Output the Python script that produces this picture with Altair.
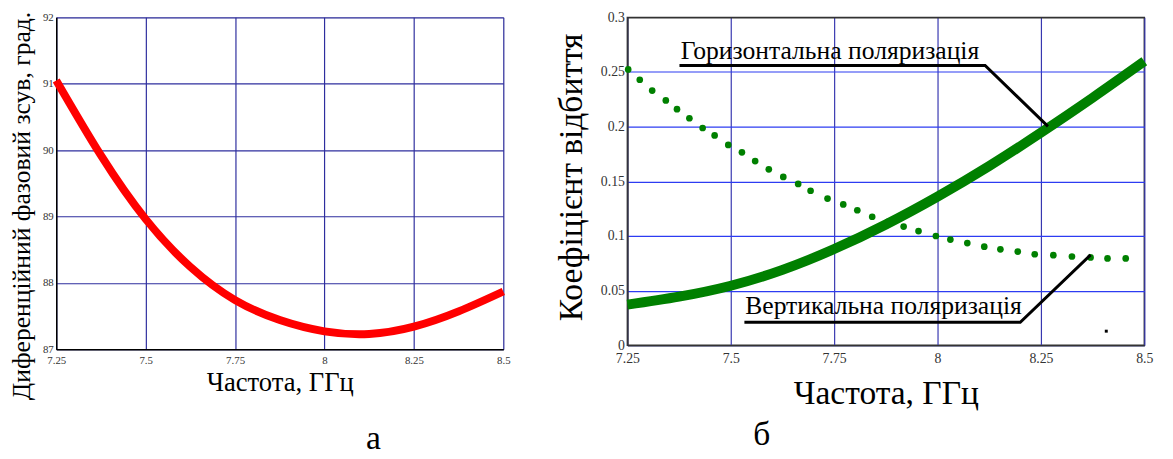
import altair as alt
import pandas as pd

FONT = "Liberation Serif"

# ---- panel a: differential phase shift ----
phase_freq = [7.25, 7.375, 7.5, 7.625, 7.75, 7.875, 8.0, 8.125, 8.25, 8.375, 8.5]
phase_deg = [91.05, 89.92, 88.96, 88.24, 87.74, 87.44, 87.27, 87.23, 87.34, 87.57, 87.87]

# ---- panel b: reflection coefficient ----
horiz_freq = [7.25, 7.375, 7.5, 7.625, 7.75, 7.875, 8.0, 8.125, 8.25, 8.375, 8.5]
horiz_val = [0.0372, 0.0445, 0.0545, 0.0690, 0.0880, 0.1105, 0.1360, 0.1640, 0.1945, 0.2265, 0.2598]

vert_freq = [7.252, 7.280, 7.310, 7.343, 7.370, 7.400, 7.432, 7.461, 7.494, 7.527, 7.559,
             7.592, 7.627, 7.663, 7.693, 7.734, 7.772, 7.806, 7.842, 7.880, 7.918, 7.954,
             7.996, 8.031, 8.072, 8.113, 8.152, 8.194, 8.235, 8.280, 8.325, 8.370, 8.411, 8.455]
vert_val = [0.2524, 0.2429, 0.2330, 0.2240, 0.2160, 0.2077, 0.1988, 0.1920, 0.1833, 0.1765, 0.1685,
            0.1610, 0.1540, 0.1476, 0.1414, 0.1342, 0.1289, 0.1235, 0.1176, 0.1130, 0.1086, 0.1045,
            0.1000, 0.0967, 0.0935, 0.0902, 0.0878, 0.0857, 0.0833, 0.0824, 0.0812, 0.0804, 0.0795, 0.0795]

label_text = ["Горизонтальна поляризація", "Вертикальна поляризація"]
label_freq = [7.379, 7.535]
label_val = [0.2617, 0.0285]

leader_h_freq = [7.376, 8.115, 8.267]
leader_h_val = [0.2560, 0.2560, 0.2003]
leader_v_freq = [7.533, 8.200, 8.370]
leader_v_val = [0.0211, 0.0211, 0.0827]

speck_freq = [8.408]
speck_val = [0.0129]

x_ticks = [7.25, 7.5, 7.75, 8.0, 8.25, 8.5]
phase_ticks = [87, 88, 89, 90, 91, 92]
refl_ticks = [0, 0.05, 0.1, 0.15, 0.2, 0.25, 0.3]

x_title = "Частота, ГГц"

# ------------------------------------------------------------------ panel a
df_a = pd.DataFrame({"f": phase_freq, "v": phase_deg})

left = alt.Chart(df_a).mark_line(color="#ff0000", strokeWidth=8, interpolate="natural").encode(
    x=alt.X("f:Q", scale=alt.Scale(domain=[7.25, 8.5], nice=False, zero=False),
            axis=alt.Axis(values=x_ticks, format=".3~g", title=x_title,
                          grid=True, gridColor="#2e2e9e", gridWidth=1.2,
                          domainColor="black", domainWidth=1.5, ticks=False,
                          labelFont=FONT, labelFontSize=11, labelColor="#333", labelPadding=6,
                          labelFlush=False,
                          titleFont=FONT, titleFontSize=27, titleFontWeight="normal",
                          titleColor="black", titlePadding=4)),
    y=alt.Y("v:Q", scale=alt.Scale(domain=[87, 92], nice=False, zero=False),
            axis=alt.Axis(values=phase_ticks, format="~g",
                          title="Диференційний фазовий зсув, град.",
                          grid=True, gridColor="#2e2e9e", gridWidth=1.2,
                          domainColor="black", domainWidth=1.5, ticks=False,
                          labelFont=FONT, labelFontSize=11, labelColor="#333", labelPadding=3,
                          titleFont=FONT, titleFontSize=26, titleFontWeight="normal",
                          titleColor="black", titlePadding=8, titleY=191)),
).properties(
    width=454, height=337,
    title=alt.TitleParams("а", orient="bottom", anchor="middle", font=FONT,
                          fontSize=34, fontWeight="normal", color="black", dx=95, offset=23),
)

# ------------------------------------------------------------------ panel b
xs = alt.Scale(domain=[7.25, 8.5], nice=False, zero=False)
ys = alt.Scale(domain=[0, 0.3], nice=False, zero=False)

df_h = pd.DataFrame({"f": horiz_freq, "v": horiz_val})
df_v = pd.DataFrame({"f": vert_freq, "v": vert_val})
df_lab = pd.DataFrame({"f": label_freq, "v": label_val, "t": label_text})
df_lead = pd.DataFrame({
    "f": leader_h_freq + leader_v_freq,
    "v": leader_h_val + leader_v_val,
    "k": ["h"] * len(leader_h_freq) + ["v"] * len(leader_v_freq),
    "i": list(range(len(leader_h_freq))) + list(range(len(leader_v_freq))),
})
df_speck = pd.DataFrame({"f": speck_freq, "v": speck_val})

bx = alt.X("f:Q", scale=xs,
           axis=alt.Axis(values=x_ticks, format=".3~g", title=x_title,
                         grid=True, gridColor="#3838b0", gridWidth=1.2,
                         domainColor="#333", domainWidth=1.5, ticks=False,
                         labelFont=FONT, labelFontSize=14, labelColor="#333", labelPadding=6,
                         labelFlush=False,
                         titleFont=FONT, titleFontSize=34, titleFontWeight="normal",
                         titleColor="black", titlePadding=12))
by = alt.Y("v:Q", scale=ys,
           axis=alt.Axis(values=refl_ticks, format="~g", title="Коефіцієнт відбиття",
                         grid=True,
                         gridColor={"condition": {"test": "datum.value >= 0.3", "value": "#333333"},
                                    "value": "#2d3cf2"},
                         gridWidth=1.2,
                         domainColor="#333", domainWidth=1.5, ticks=False,
                         labelFont=FONT, labelFontSize=14, labelColor="#333", labelPadding=3,
                         titleFont=FONT, titleFontSize=34, titleFontWeight="normal",
                         titleColor="black", titlePadding=12, titleY=162))

dots = alt.Chart(df_v).mark_circle(color="#008000", size=46, opacity=1).encode(x=bx, y=by)
solid = alt.Chart(df_h).mark_line(color="#008000", strokeWidth=10, interpolate="natural").encode(
    x=alt.X("f:Q", scale=xs), y=alt.Y("v:Q", scale=ys))
leaders = alt.Chart(df_lead).mark_line(color="black", strokeWidth=3).encode(
    x=alt.X("f:Q", scale=xs), y=alt.Y("v:Q", scale=ys), detail="k:N", order="i:Q")
labels = alt.Chart(df_lab).mark_text(font=FONT, fontSize=26, align="left", baseline="alphabetic",
                                     color="black").encode(
    x=alt.X("f:Q", scale=xs), y=alt.Y("v:Q", scale=ys), text="t:N")
speck = alt.Chart(df_speck).mark_square(color="black", size=9, opacity=1).encode(
    x=alt.X("f:Q", scale=xs), y=alt.Y("v:Q", scale=ys))

right = alt.layer(dots, solid, leaders, labels, speck).properties(
    width=525, height=333,
    view=alt.ViewBackground(stroke="#333", strokeWidth=1.5),
    title=alt.TitleParams("б", orient="bottom", anchor="middle", font=FONT,
                          fontSize=34, fontWeight="normal", color="black", dx=-126, offset=8),
)

chart = alt.hconcat(left, right, spacing=34).properties(
    padding={"left": 0, "top": -2, "right": 0, "bottom": 0}
).configure_view(stroke=None).configure(background="white")

chart.save("out.html", embed_options={"renderer": "svg", "actions": False})
